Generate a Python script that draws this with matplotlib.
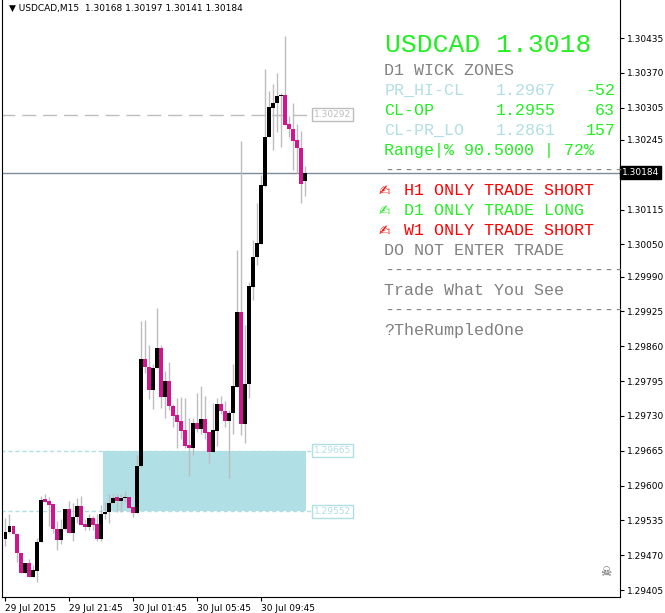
import matplotlib
matplotlib.use("Agg")
import matplotlib.pyplot as plt
from matplotlib.patches import Rectangle

opens = [129500,129514,129524,129509,129474,129437,129456,129430,129441,129494,
 129575,129571,129565,129519,129498,129519,129556,129511,129542,129562,
 129528,129522,129540,129528,129500,129547,129551,129568,129578,129571,
 129577,129579,129560,129549,129636,129836,129821,129778,129819,129857,
 129765,129795,129749,129731,129721,129704,129676,129671,129717,129706,
 129724,129700,129662,129702,129752,129739,129721,129735,129784,129924,
 129715,129789,129970,130026,130051,130159,130250,130305,130313,130327,
 130329,130274,130266,130245,130230,130168]
highs = [129540,129547,129524,129509,129474,129456,129463,129451,129503,129581,
 129585,129579,129565,129534,129537,129557,129571,129567,129577,129581,
 129537,129547,129544,129547,129563,129570,129584,129585,129584,129584,
 129590,129579,129560,129657,129907,129909,129862,129826,129931,129863,
 129814,129831,129753,129764,129765,129764,129727,129727,129773,129785,
 129767,129700,129755,129764,129767,129757,129741,129826,130040,130242,
 129900,129980,130059,130128,130180,130377,130337,130349,130370,130333,
 130439,130290,130313,130275,130262,130197]
lows = [129488,129511,129509,129457,129437,129437,129430,129430,129421,129494,
 129570,129524,129511,129480,129491,129517,129511,129497,129530,129527,
 129517,129517,129517,129496,129497,129537,129531,129568,129550,129550,
 129570,129559,129542,129549,129634,129810,129761,129742,129819,129744,
 129727,129741,129710,129671,129687,129671,129617,129657,129700,129697,
 129687,129643,129662,129674,129733,129710,129615,129697,129784,129694,
 129680,129764,129947,130012,130050,130157,130250,130227,130259,130231,
 130273,130251,130188,130184,130128,130141]
closes = [129514,129524,129509,129474,129437,129456,129430,129443,129494,129573,
 129570,129564,129519,129498,129519,129556,129511,129542,129562,129527,
 129522,129540,129527,129500,129547,129551,129568,129577,129571,129577,
 129579,129559,129549,129636,129836,129821,129778,129819,129857,129765,
 129795,129749,129730,129719,129702,129674,129671,129717,129706,129724,
 129699,129662,129704,129752,129739,129721,129735,129785,129924,129715,
 129789,129972,130026,130052,130161,130250,130306,130313,130327,130329,
 130273,130265,130242,130229,130163,130184]
s = 1e-5
opens = [v*s for v in opens]; highs = [v*s for v in highs]
lows = [v*s for v in lows]; closes = [v*s for v in closes]

ytick_vals = [1.30435,1.30370,1.30305,1.30245,1.30115,1.30050,1.29990,1.29925,
              1.29860,1.29795,1.29730,1.29665,1.29600,1.29535,1.29470,1.29405]
xtick_idx = [1, 17, 33, 49, 65]
xtick_labels = ["29 Jul 2015", "29 Jul 21:45", "30 Jul 01:45", "30 Jul 05:45", "30 Jul 09:45"]
current_price = 1.30184
zone_top, zone_bot = 1.29665, 1.29552
prev_level = 1.30292
zone_start, zone_end = 25.5, 76.3

fig = plt.figure(figsize=(6.65, 6.13), dpi=100)
ax = fig.add_axes([0.003, 0.026, 0.93, 0.974])
ax.set_xlim(0.2, 155)
ax.set_ylim(1.29392, 1.30506)

MAG = "#d0168c"
for i, (o, h, l, c) in enumerate(zip(opens, highs, lows, closes), start=1):
    ax.vlines(i, l, h, color="#bdbdbd", lw=1, zorder=2)
    col = "black" if c >= o else MAG
    lo_, hi_ = min(o, c), max(o, c)
    if hi_ - lo_ < 0.000015:
        hi_ = lo_ + 0.000015
    ax.add_patch(Rectangle((i-0.42, lo_), 0.84, hi_-lo_, color=col, zorder=3, lw=0))

ax.add_patch(Rectangle((zone_start, zone_bot), zone_end-zone_start, zone_top-zone_bot,
                       color="#b0dfe5", zorder=1, lw=0))
ax.plot([0, 78], [zone_top]*2, color="#b0dfe5", ls=(0, (3, 2)), lw=1, zorder=1)
ax.plot([0, 78], [zone_bot]*2, color="#b0dfe5", ls=(0, (3, 2)), lw=1, zorder=1)
ax.plot([0, 78], [prev_level]*2, color="#bdbdbd", ls=(0, (10, 5)), lw=1, zorder=1)
ax.axhline(current_price, color="#7f8c99", lw=1, zorder=1)
for lv, col in [(prev_level, "#bdbdbd"), (zone_top, "#b0dfe5"), (zone_bot, "#b0dfe5")]:
    ax.text(78.3, lv, f"{lv:.5f}", fontsize=6.5, color=col, va="center", ha="left",
            bbox=dict(boxstyle="square,pad=0.2", fc="white", ec=col, lw=1))

ax.yaxis.tick_right()
ax.set_yticks(ytick_vals)
ax.set_yticklabels([f"{v:.5f}" for v in ytick_vals], fontsize=6.5)
ax.set_xticks(xtick_idx)
ax.set_xticklabels(xtick_labels, fontsize=6.5, ha="left")
ax.tick_params(direction="out", length=3, pad=2)
ax.spines["top"].set_visible(False)
ax.text(1.002, current_price, f"{current_price:.5f}", transform=ax.get_yaxis_transform(),
        fontsize=6.5, color="white", va="center", ha="left",
        bbox=dict(boxstyle="square,pad=0.2", fc="black", ec="black"))

ax.text(0.012, 0.993, "▼ USDCAD,M15  1.30168 1.30197 1.30141 1.30184", transform=ax.transAxes,
        fontsize=6.5, va="top", ha="left")
ax.text(0.985, 0.035, "☠", transform=ax.transAxes, fontsize=9, color="#555555", ha="right")

MONO = ["Liberation Mono", "DejaVu Sans"]
LIME = "#22ee22"; LBLUE = "#b0dfe5"; GRAY = "#808080"; RED = "#ff0000"
def tx(xpx, ypx, s, col, size=12, fam=MONO):
    ax.text(xpx/618, 1-ypx/597, s, transform=ax.transAxes, family=fam, color=col,
            fontsize=size, va="center", ha="left")
tx(383, 45, "USDCAD 1.3018", LIME, 19)
tx(382, 70, "D1 WICK ZONES", GRAY)
tx(382, 90, "PR_HI-CL", LBLUE); tx(493, 90, "1.2967", LBLUE); tx(583, 90, "-52", LIME)
tx(382, 110, "CL-OP", LIME); tx(493, 110, "1.2955", LIME); tx(592, 110, "63", LIME)
tx(382, 130, "CL-PR_LO", LBLUE); tx(493, 130, "1.2861", LBLUE); tx(583, 130, "157", LIME)
tx(382, 150, "Range|% 90.5000 | 72%", LIME)
tx(382, 170, "------------------------", GRAY)
tx(376, 191, "✍", RED, 10, ["DejaVu Sans"]); tx(402, 190, "H1 ONLY TRADE SHORT", RED)
tx(376, 211, "✍", LIME, 10, ["DejaVu Sans"]); tx(402, 210, "D1 ONLY TRADE LONG", LIME)
tx(376, 231, "✍", RED, 10, ["DejaVu Sans"]); tx(402, 230, "W1 ONLY TRADE SHORT", RED)
tx(382, 250, "DO NOT ENTER TRADE", GRAY)
tx(382, 270, "------------------------", GRAY)
tx(382, 290, "Trade What You See", GRAY)
tx(382, 310, "------------------------", GRAY)
tx(382, 330, "?TheRumpledOne", GRAY)

fig.savefig("out.png", dpi=100)
